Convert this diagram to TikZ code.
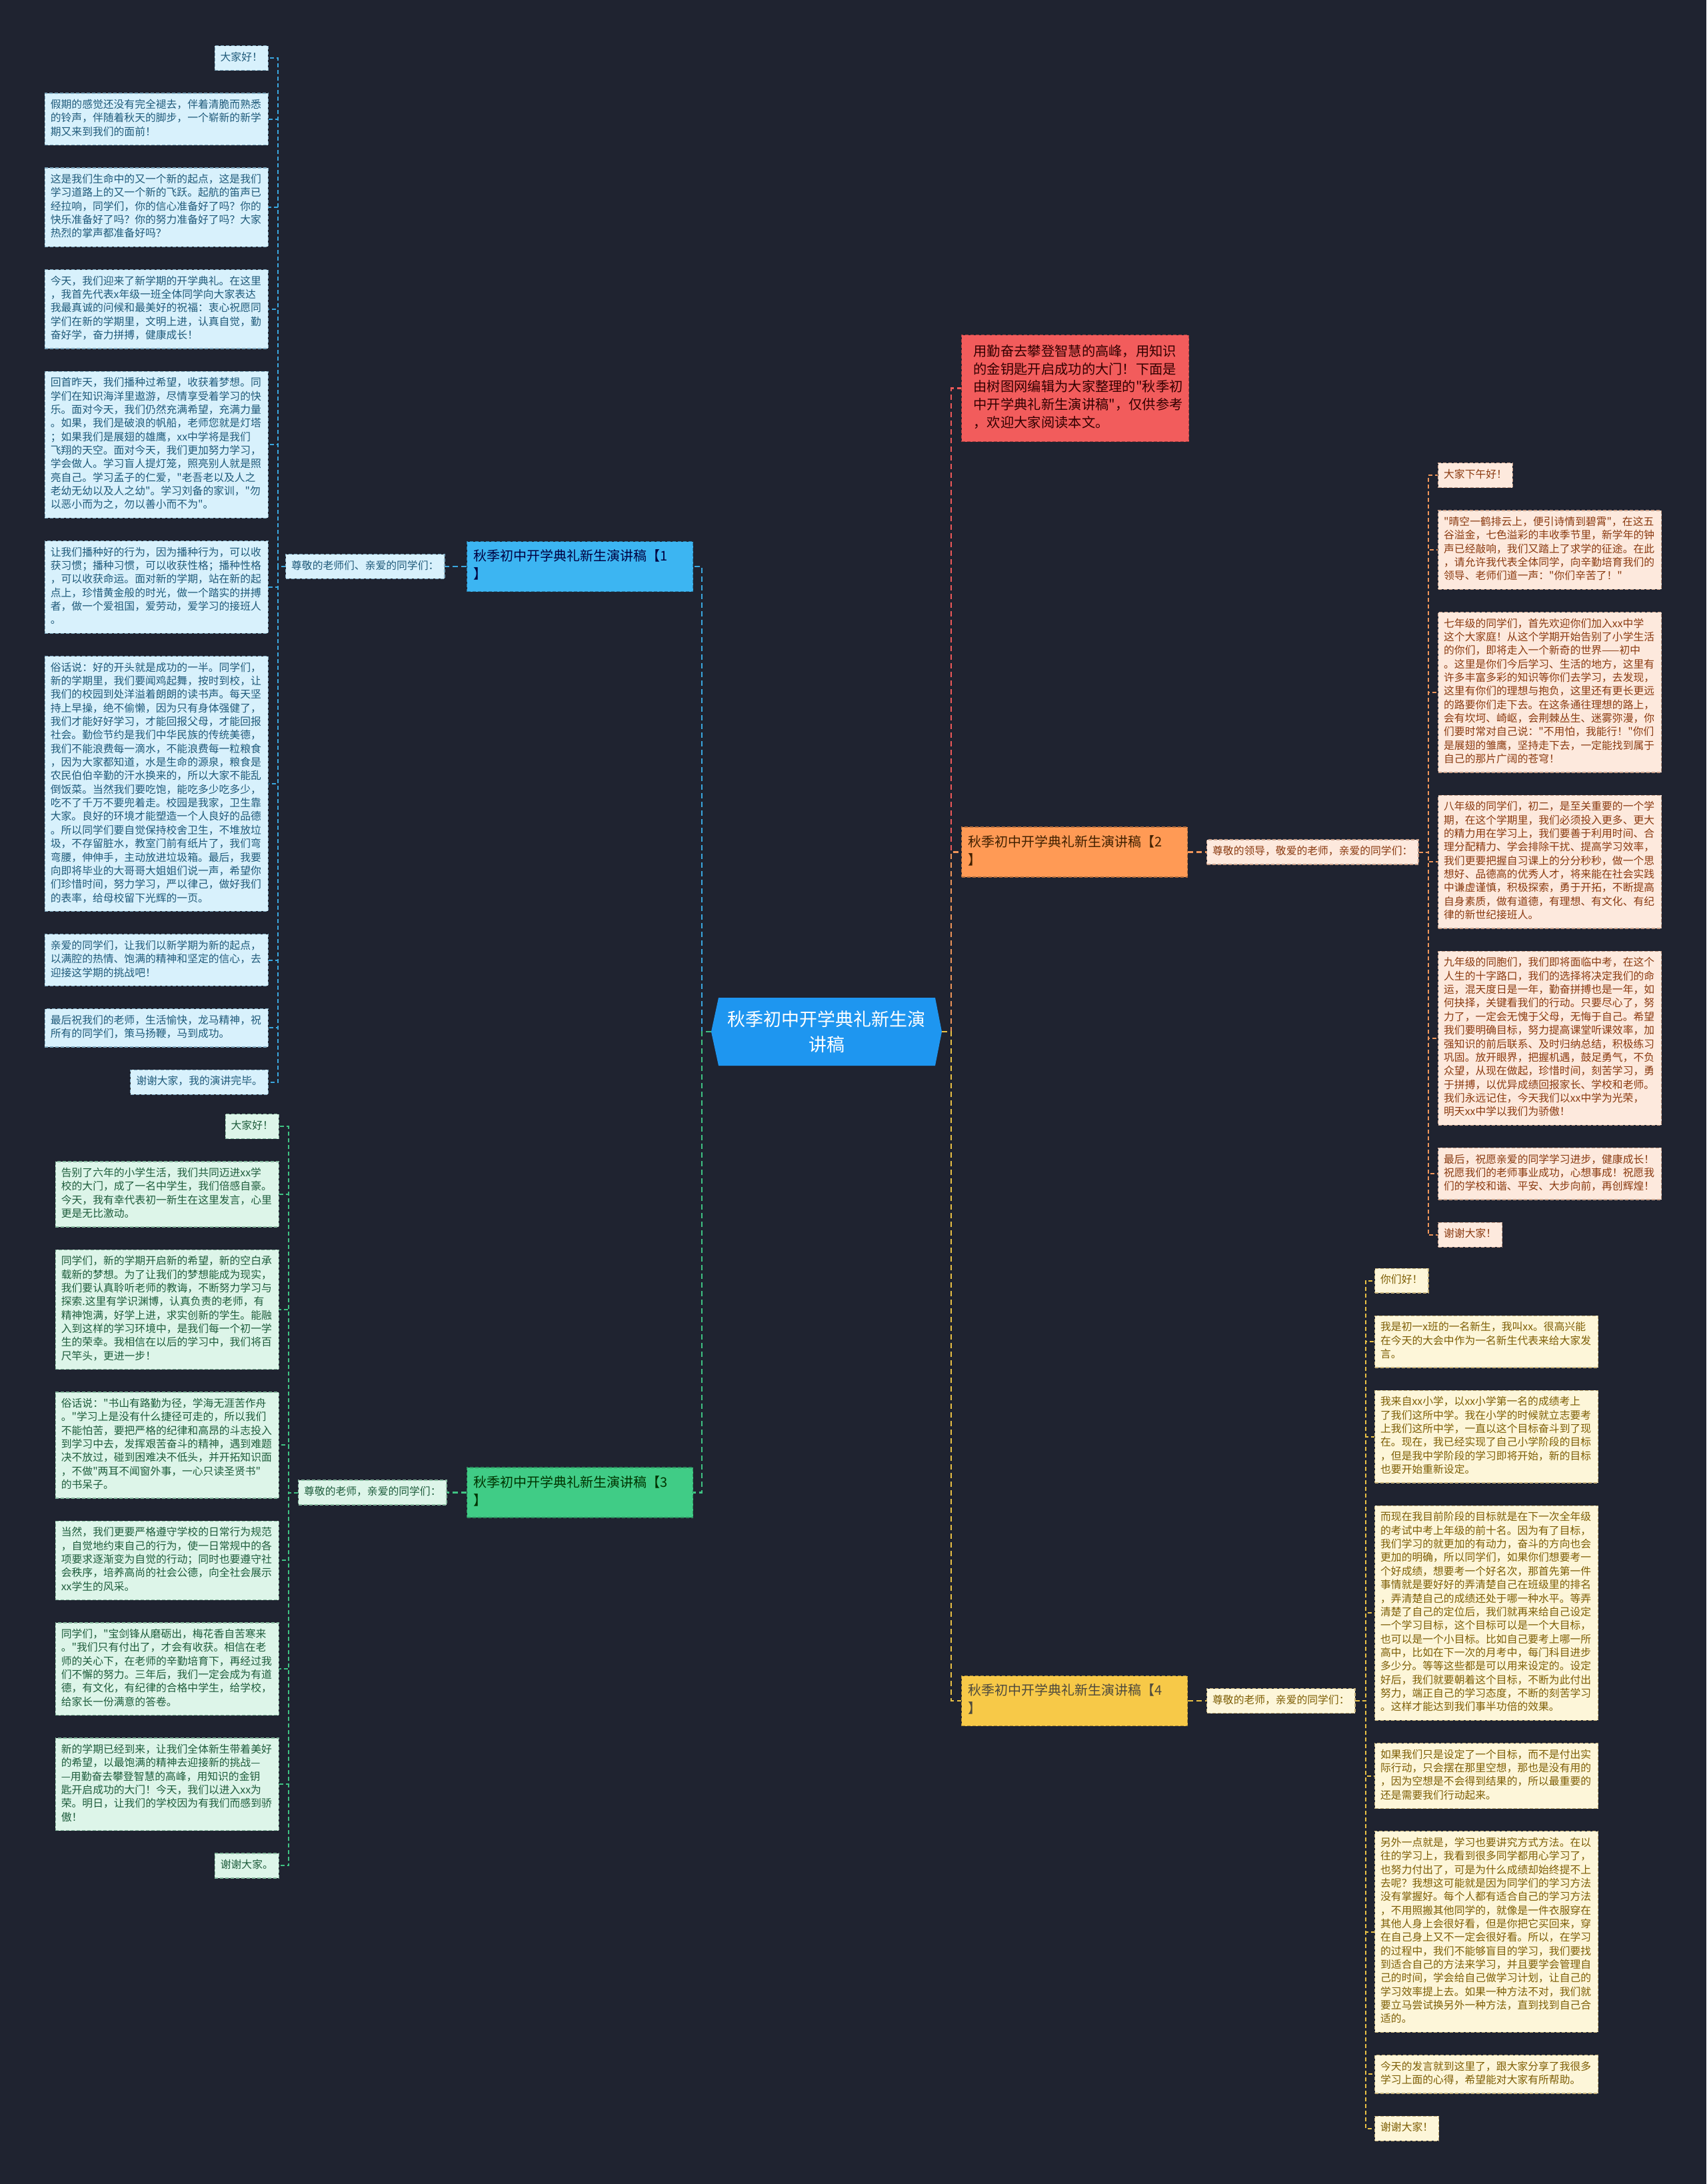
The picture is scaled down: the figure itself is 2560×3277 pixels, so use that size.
\documentclass[tikz,border=0pt]{standalone}
\usepackage{fontspec}
\setmainfont{Noto Sans CJK SC}
\newfontfamily\cjk{Noto Sans CJK SC}
\usetikzlibrary{calc}
\definecolor{bgc}{HTML}{1F2330}
\definecolor{centerfill}{HTML}{1E96F0}
\definecolor{bluebr}{HTML}{3CB5F2}
\definecolor{orangebr}{HTML}{FF9A55}
\definecolor{greenbr}{HTML}{40CC86}
\definecolor{yellowbr}{HTML}{F7C948}
\definecolor{redbr}{HTML}{F25C5C}
\definecolor{bluefill}{HTML}{D8F1FC}
\definecolor{greenfill}{HTML}{DDF5E9}
\definecolor{orangefill}{HTML}{FDE9DD}
\definecolor{yellowfill}{HTML}{FDF6D9}
\definecolor{bluetext}{HTML}{1F5A7A}
\definecolor{greentext}{HTML}{1E5C3C}
\definecolor{orangetext}{HTML}{8A3A10}
\definecolor{yellowtext}{HTML}{7D5E05}
\definecolor{blueborder}{HTML}{7FA9BF}
\definecolor{greenborder}{HTML}{86B89E}
\definecolor{orangeborder}{HTML}{C9A08A}
\definecolor{yellowborder}{HTML}{C7B27A}
\definecolor{blueline}{HTML}{3AA8E0}
\definecolor{greenline}{HTML}{3FC383}
\definecolor{orangeline}{HTML}{F0965A}
\definecolor{yellowline}{HTML}{EBC245}
\definecolor{redline}{HTML}{F05A5A}
\tikzset{
  cbox/.style={font=\cjk\fontsize{15.8}{20.35}\selectfont, inner xsep=8.5pt, inner ysep=8.3pt,
    align=left, execute at begin node=\strut, execute at end node=\strut,
    draw, dash pattern=on 5pt off 3pt, line width=1.3pt},
  wide/.style={text width=318pt},
  bluebox/.style={cbox, fill=bluefill, draw=blueborder, text=bluetext},
  greenbox/.style={cbox, fill=greenfill, draw=greenborder, text=greentext},
  orangebox/.style={cbox, fill=orangefill, draw=orangeborder, text=orangetext},
  yellowbox/.style={cbox, fill=yellowfill, draw=yellowborder, text=yellowtext},
  branch/.style={font=\cjk\fontsize{20}{27}\selectfont, inner xsep=10pt, inner ysep=10.5pt,
    text width=319pt, align=left, execute at begin node=\strut, execute at end node=\strut,
    draw, dash pattern=on 5pt off 3pt, line width=1.3pt},
  mainline/.style={dash pattern=on 8pt off 5pt, line width=2.6pt},
  colline/.style={dash pattern=on 6pt off 4pt, line width=2pt},
}
\begin{document}
\begin{tikzpicture}[x=1pt,y=-1pt]
\fill[bgc] (0,0) rectangle (2560,3277);
\useasboundingbox (0,0) rectangle (2560,3277);

% ---------- centre ----------
\fill[centerfill] (1067,1548) -- (1078,1497) -- (1403,1497) -- (1413,1548) -- (1403,1599) -- (1078,1599) -- cycle;
\node[font=\cjk\fontsize{27}{38}\selectfont, text=white, align=center] (ctr) at (1240,1548) {秋季初中开学典礼新生演\\讲稿};
\coordinate (cl) at (1067,1548);
\coordinate (cr) at (1413,1548);

% ---------- intro (red) ----------
\node[font=\cjk\fontsize{20.3}{26.7}\selectfont, inner xsep=18pt, inner ysep=13.25pt, text width=305pt, align=left,
  execute at begin node=\strut, execute at end node=\strut,
  fill=redbr, draw=redbr!70!black, dash pattern=on 5pt off 3pt, line width=1.3pt, text=black!80!red,
  anchor=north west] (intro) at (1442,502)
  {用勤奋去攀登智慧的高峰，用知识\\的金钥匙开启成功的大门！下面是\\由树图网编辑为大家整理的"秋季初\\中开学典礼新生演讲稿"，仅供参考\\，欢迎大家阅读本文。};

% ---------- branches ----------
\node[branch, fill=bluebr, draw=bluebr!70!black, text=black!75!blue, anchor=west] (br1) at (700,850) {秋季初中开学典礼新生演讲稿【1\\】};
\node[branch, fill=greenbr, draw=greenbr!70!black, text=black!80!green, anchor=west] (br3) at (700,2239.5) {秋季初中开学典礼新生演讲稿【3\\】};
\node[branch, fill=orangebr, draw=orangebr!70!black, text=black!75!orange, anchor=west] (br2) at (1442,1278.5) {秋季初中开学典礼新生演讲稿【2\\】};
\node[branch, fill=yellowbr, draw=yellowbr!70!black, text=black!80!yellow, anchor=west] (br4) at (1442,2552) {秋季初中开学典礼新生演讲稿【4\\】};

\draw[mainline, blueline] (cl) -- ++(-14,0) |- (br1.east);
\draw[mainline, greenline] (cl) -- ++(-14,0) |- (br3.east);
\draw[mainline, redline] (cr) -- ++(14,0) |- (intro.west);
\draw[mainline, orangeline] (cr) -- ++(14,0) |- (br2.west);
\draw[mainline, yellowline] (cr) -- ++(14,0) |- (br4.west);

% ---------- labels ----------
\node[bluebox, anchor=west] (l1) at (428,850) {尊敬的老师们、亲爱的同学们：};
\node[greenbox, anchor=west] (l3) at (447,2239.5) {尊敬的老师，亲爱的同学们：};
\node[orangebox, anchor=west] (l2) at (1810,1278.5) {尊敬的领导，敬爱的老师，亲爱的同学们：};
\node[yellowbox, anchor=west] (l4) at (1810,2552) {尊敬的老师，亲爱的同学们：};
\draw[mainline, blueline] (br1.west) -- (l1.east);
\draw[mainline, greenline] (br3.west) -- (l3.east);
\draw[mainline, orangeline] (br2.east) -- (l2.west);
\draw[mainline, yellowline] (br4.east) -- (l4.west);

% ---------- blue column ----------
\node[bluebox, anchor=north east] (bb1) at (403,68) {大家好！};
\node[bluebox, wide, anchor=north east] (bb2) at ($(bb1.south east)+(0,33)$) {假期的感觉还没有完全褪去，伴着清脆而熟悉\\的铃声，伴随着秋天的脚步，一个崭新的新学\\期又来到我们的面前！};
\node[bluebox, wide, anchor=north east] (bb3) at ($(bb2.south east)+(0,33)$) {这是我们生命中的又一个新的起点，这是我们\\学习道路上的又一个新的飞跃。起航的笛声已\\经拉响，同学们，你的信心准备好了吗？你的\\快乐准备好了吗？你的努力准备好了吗？大家\\热烈的掌声都准备好吗？};
\node[bluebox, wide, anchor=north east] (bb4) at ($(bb3.south east)+(0,33)$) {今天，我们迎来了新学期的开学典礼。在这里\\，我首先代表x年级一班全体同学向大家表达\\我最真诚的问候和最美好的祝福：衷心祝愿同\\学们在新的学期里，文明上进，认真自觉，勤\\奋好学，奋力拼搏，健康成长！};
\node[bluebox, wide, anchor=north east] (bb5) at ($(bb4.south east)+(0,33)$) {回首昨天，我们播种过希望，收获着梦想。同\\学们在知识海洋里遨游，尽情享受着学习的快\\乐。面对今天，我们仍然充满希望，充满力量\\。如果，我们是破浪的帆船，老师您就是灯塔\\；如果我们是展翅的雄鹰，xx中学将是我们\\飞翔的天空。面对今天，我们更加努力学习，\\学会做人。学习盲人提灯笼，照亮别人就是照\\亮自己。学习孟子的仁爱，"老吾老以及人之\\老幼无幼以及人之幼"。学习刘备的家训，"勿\\以恶小而为之，勿以善小而不为"。};
\node[bluebox, wide, anchor=north east] (bb6) at ($(bb5.south east)+(0,33)$) {让我们播种好的行为，因为播种行为，可以收\\获习惯；播种习惯，可以收获性格；播种性格\\，可以收获命运。面对新的学期，站在新的起\\点上，珍惜黄金般的时光，做一个踏实的拼搏\\者，做一个爱祖国，爱劳动，爱学习的接班人\\。};
\node[bluebox, wide, anchor=north east] (bb7) at ($(bb6.south east)+(0,33)$) {俗话说：好的开头就是成功的一半。同学们，\\新的学期里，我们要闻鸡起舞，按时到校，让\\我们的校园到处洋溢着朗朗的读书声。每天坚\\持上早操，绝不偷懒，因为只有身体强健了，\\我们才能好好学习，才能回报父母，才能回报\\社会。勤俭节约是我们中华民族的传统美德，\\我们不能浪费每一滴水，不能浪费每一粒粮食\\，因为大家都知道，水是生命的源泉，粮食是\\农民伯伯辛勤的汗水换来的，所以大家不能乱\\倒饭菜。当然我们要吃饱，能吃多少吃多少，\\吃不了千万不要兜着走。校园是我家，卫生靠\\大家。良好的环境才能塑造一个人良好的品德\\。所以同学们要自觉保持校舍卫生，不堆放垃\\圾，不存留脏水，教室门前有纸片了，我们弯\\弯腰，伸伸手，主动放进垃圾箱。最后，我要\\向即将毕业的大哥哥大姐姐们说一声，希望你\\们珍惜时间，努力学习，严以律己，做好我们\\的表率，给母校留下光辉的一页。};
\node[bluebox, wide, anchor=north east] (bb8) at ($(bb7.south east)+(0,33)$) {亲爱的同学们，让我们以新学期为新的起点，\\以满腔的热情、饱满的精神和坚定的信心，去\\迎接这学期的挑战吧！};
\node[bluebox, wide, anchor=north east] (bb9) at ($(bb8.south east)+(0,33)$) {最后祝我们的老师，生活愉快，龙马精神，祝\\所有的同学们，策马扬鞭，马到成功。};
\node[bluebox, anchor=north east] (bb10) at ($(bb9.south east)+(0,33)$) {谢谢大家，我的演讲完毕。};
\foreach \n in {1,...,10} \draw[colline, blueline] (l1.west) -- ++(-11,0) |- (bb\n.east);

% ---------- green column ----------
\node[greenbox, anchor=north east] (gb1) at (419,1671) {大家好！};
\node[greenbox, wide, anchor=north east] (gb2) at ($(gb1.south east)+(0,33)$) {告别了六年的小学生活，我们共同迈进xx学\\校的大门，成了一名中学生，我们倍感自豪。\\今天，我有幸代表初一新生在这里发言，心里\\更是无比激动。};
\node[greenbox, wide, anchor=north east] (gb3) at ($(gb2.south east)+(0,33)$) {同学们，新的学期开启新的希望，新的空白承\\载新的梦想。为了让我们的梦想能成为现实，\\我们要认真聆听老师的教诲，不断努力学习与\\探索.这里有学识渊博，认真负责的老师，有\\精神饱满，好学上进，求实创新的学生。能融\\入到这样的学习环境中，是我们每一个初一学\\生的荣幸。我相信在以后的学习中，我们将百\\尺竿头，更进一步！};
\node[greenbox, wide, anchor=north east] (gb4) at ($(gb3.south east)+(0,33)$) {俗话说："书山有路勤为径，学海无涯苦作舟\\。"学习上是没有什么捷径可走的，所以我们\\不能怕苦，要把严格的纪律和高昂的斗志投入\\到学习中去，发挥艰苦奋斗的精神，遇到难题\\决不放过，碰到困难决不低头，并开拓知识面\\，不做"两耳不闻窗外事，一心只读圣贤书"\\的书呆子。};
\node[greenbox, wide, anchor=north east] (gb5) at ($(gb4.south east)+(0,33)$) {当然，我们更要严格遵守学校的日常行为规范\\，自觉地约束自己的行为，使一日常规中的各\\项要求逐渐变为自觉的行动；同时也要遵守社\\会秩序，培养高尚的社会公德，向全社会展示\\xx学生的风采。};
\node[greenbox, wide, anchor=north east] (gb6) at ($(gb5.south east)+(0,33)$) {同学们，"宝剑锋从磨砺出，梅花香自苦寒来\\。"我们只有付出了，才会有收获。相信在老\\师的关心下，在老师的辛勤培育下，再经过我\\们不懈的努力。三年后，我们一定会成为有道\\德，有文化，有纪律的合格中学生，给学校，\\给家长一份满意的答卷。};
\node[greenbox, wide, anchor=north east] (gb7) at ($(gb6.south east)+(0,33)$) {新的学期已经到来，让我们全体新生带着美好\\的希望，以最饱满的精神去迎接新的挑战—\\—用勤奋去攀登智慧的高峰，用知识的金钥\\匙开启成功的大门！今天，我们以进入xx为\\荣。明日，让我们的学校因为有我们而感到骄\\傲！};
\node[greenbox, anchor=north east] (gb8) at ($(gb7.south east)+(0,33)$) {谢谢大家。};
\foreach \n in {1,...,8} \draw[colline, greenline] (l3.west) -- ++(-14,0) |- (gb\n.east);

% ---------- orange column ----------
\node[orangebox, anchor=north west] (ob1) at (2157,694) {大家下午好！};
\node[orangebox, wide, anchor=north west] (ob2) at ($(ob1.south west)+(0,33)$) {"晴空一鹤排云上，便引诗情到碧霄"，在这五\\谷溢金，七色溢彩的丰收季节里，新学年的钟\\声已经敲响，我们又踏上了求学的征途。在此\\，请允许我代表全体同学，向辛勤培育我们的\\领导、老师们道一声："你们辛苦了！"};
\node[orangebox, wide, anchor=north west] (ob3) at ($(ob2.south west)+(0,33)$) {七年级的同学们，首先欢迎你们加入xx中学\\这个大家庭！从这个学期开始告别了小学生活\\的你们，即将走入一个新奇的世界——初中\\。这里是你们今后学习、生活的地方，这里有\\许多丰富多彩的知识等你们去学习，去发现，\\这里有你们的理想与抱负，这里还有更长更远\\的路要你们走下去。在这条通往理想的路上，\\会有坎坷、崎岖，会荆棘丛生、迷雾弥漫，你\\们要时常对自己说："不用怕，我能行！"你们\\是展翅的雏鹰，坚持走下去，一定能找到属于\\自己的那片广阔的苍穹！};
\node[orangebox, wide, anchor=north west] (ob4) at ($(ob3.south west)+(0,33)$) {八年级的同学们，初二，是至关重要的一个学\\期，在这个学期里，我们必须投入更多、更大\\的精力用在学习上，我们要善于利用时间、合\\理分配精力、学会排除干扰、提高学习效率，\\我们更要把握自习课上的分分秒秒，做一个思\\想好、品德高的优秀人才，将来能在社会实践\\中谦虚谨慎，积极探索，勇于开拓，不断提高\\自身素质，做有道德，有理想、有文化、有纪\\律的新世纪接班人。};
\node[orangebox, wide, anchor=north west] (ob5) at ($(ob4.south west)+(0,33)$) {九年级的同胞们，我们即将面临中考，在这个\\人生的十字路口，我们的选择将决定我们的命\\运，混天度日是一年，勤奋拼搏也是一年，如\\何抉择，关键看我们的行动。只要尽心了，努\\力了，一定会无愧于父母，无悔于自己。希望\\我们要明确目标，努力提高课堂听课效率，加\\强知识的前后联系、及时归纳总结，积极练习\\巩固。放开眼界，把握机遇，鼓足勇气，不负\\众望，从现在做起，珍惜时间，刻苦学习，勇\\于拼搏，以优异成绩回报家长、学校和老师。\\我们永远记住，今天我们以xx中学为光荣，\\明天xx中学以我们为骄傲！};
\node[orangebox, wide, anchor=north west] (ob6) at ($(ob5.south west)+(0,33)$) {最后，祝愿亲爱的同学学习进步，健康成长！\\祝愿我们的老师事业成功，心想事成！祝愿我\\们的学校和谐、平安、大步向前，再创辉煌！};
\node[orangebox, anchor=north west] (ob7) at ($(ob6.south west)+(0,33)$) {谢谢大家！};
\foreach \n in {1,...,7} \draw[colline, orangeline] (l2.east) -- ++(14,0) |- (ob\n.west);

% ---------- yellow column ----------
\node[yellowbox, anchor=north west] (yb1) at (2062,1902.5) {你们好！};
\node[yellowbox, wide, anchor=north west] (yb2) at ($(yb1.south west)+(0,33)$) {我是初一x班的一名新生，我叫xx。很高兴能\\在今天的大会中作为一名新生代表来给大家发\\言。};
\node[yellowbox, wide, anchor=north west] (yb3) at ($(yb2.south west)+(0,33)$) {我来自xx小学，以xx小学第一名的成绩考上\\了我们这所中学。我在小学的时候就立志要考\\上我们这所中学，一直以这个目标奋斗到了现\\在。现在，我已经实现了自己小学阶段的目标\\，但是我中学阶段的学习即将开始，新的目标\\也要开始重新设定。};
\node[yellowbox, wide, anchor=north west] (yb4) at ($(yb3.south west)+(0,33)$) {而现在我目前阶段的目标就是在下一次全年级\\的考试中考上年级的前十名。因为有了目标，\\我们学习的就更加的有动力，奋斗的方向也会\\更加的明确，所以同学们，如果你们想要考一\\个好成绩，想要考一个好名次，那首先第一件\\事情就是要好好的弄清楚自己在班级里的排名\\，弄清楚自己的成绩还处于哪一种水平。等弄\\清楚了自己的定位后，我们就再来给自己设定\\一个学习目标，这个目标可以是一个大目标，\\也可以是一个小目标。比如自己要考上哪一所\\高中，比如在下一次的月考中，每门科目进步\\多少分。等等这些都是可以用来设定的。设定\\好后，我们就要朝着这个目标，不断为此付出\\努力，端正自己的学习态度，不断的刻苦学习\\。这样才能达到我们事半功倍的效果。};
\node[yellowbox, wide, anchor=north west] (yb5) at ($(yb4.south west)+(0,33)$) {如果我们只是设定了一个目标，而不是付出实\\际行动，只会摆在那里空想，那也是没有用的\\，因为空想是不会得到结果的，所以最重要的\\还是需要我们行动起来。};
\node[yellowbox, wide, anchor=north west] (yb6) at ($(yb5.south west)+(0,33)$) {另外一点就是，学习也要讲究方式方法。在以\\往的学习上，我看到很多同学都用心学习了，\\也努力付出了，可是为什么成绩却始终提不上\\去呢？我想这可能就是因为同学们的学习方法\\没有掌握好。每个人都有适合自己的学习方法\\，不用照搬其他同学的，就像是一件衣服穿在\\其他人身上会很好看，但是你把它买回来，穿\\在自己身上又不一定会很好看。所以，在学习\\的过程中，我们不能够盲目的学习，我们要找\\到适合自己的方法来学习，并且要学会管理自\\己的时间，学会给自己做学习计划，让自己的\\学习效率提上去。如果一种方法不对，我们就\\要立马尝试换另外一种方法，直到找到自己合\\适的。};
\node[yellowbox, wide, anchor=north west] (yb7) at ($(yb6.south west)+(0,33)$) {今天的发言就到这里了，跟大家分享了我很多\\学习上面的心得，希望能对大家有所帮助。};
\node[yellowbox, anchor=north west] (yb8) at ($(yb7.south west)+(0,33)$) {谢谢大家！};
\foreach \n in {1,...,8} \draw[colline, yellowline] (l4.east) -- ++(15,0) |- (yb\n.west);
\end{tikzpicture}
\end{document}
